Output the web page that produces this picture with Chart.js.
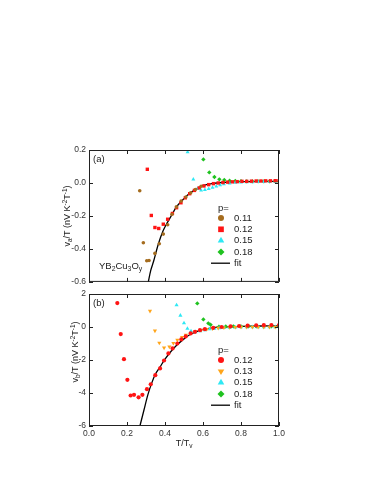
<!DOCTYPE html>
<html>
<head>
<meta charset="utf-8">
<script src="https://cdn.jsdelivr.net/npm/chart.js"></script>
<style>
  body { margin: 0; background: #fff; }
  .box { position: absolute; left: 0; width: 374px; }
</style>
</head>
<body>
<div class="box" style="top:140px;height:150px"><canvas id="chartA"></canvas></div>
<div class="box" style="top:284px;height:170px"><canvas id="chartB"></canvas></div>
<script>
// ---- panel (a) data ----
const xA11 = [0.267, 0.286, 0.304, 0.316, 0.347, 0.370, 0.391, 0.414, 0.437, 0.460, 0.485, 0.510, 0.535, 0.560, 0.590];
const yA11 = [-0.047, -0.363, -0.472, -0.470, -0.427, -0.369, -0.310, -0.253, -0.190, -0.145, -0.110, -0.085, -0.060, -0.040, -0.020];
const xA12 = [0.307, 0.328, 0.347, 0.367, 0.391, 0.414, 0.439, 0.461, 0.484, 0.507, 0.530, 0.555, 0.580, 0.605, 0.630, 0.655, 0.680, 0.705, 0.730, 0.755, 0.780, 0.805, 0.830, 0.855, 0.880, 0.905, 0.930, 0.955, 0.980, 1.000];
const yA12 = [0.083, -0.197, -0.270, -0.276, -0.250, -0.220, -0.185, -0.150, -0.120, -0.090, -0.065, -0.045, -0.030, -0.018, -0.010, -0.004, 0.000, 0.003, 0.005, 0.007, 0.008, 0.010, 0.010, 0.011, 0.012, 0.012, 0.013, 0.013, 0.014, 0.014];
const xA15 = [0.519, 0.549, 0.570, 0.590, 0.610, 0.630, 0.650, 0.670, 0.690, 0.710, 0.740, 0.770, 0.800, 0.830, 0.860, 0.890, 0.920, 0.950, 0.980];
const yA15 = [0.188, 0.022, -0.035, -0.045, -0.042, -0.035, -0.028, -0.020, -0.013, -0.007, -0.002, 0.002, 0.004, 0.005, 0.006, 0.007, 0.007, 0.008, 0.008];
const xA18 = [0.602, 0.633, 0.660, 0.686, 0.712, 0.740, 0.770, 0.800, 0.830, 0.860, 0.890, 0.920, 0.950, 0.980, 1.000];
const yA18 = [0.143, 0.064, 0.036, 0.022, 0.018, 0.014, 0.012, 0.011, 0.010, 0.010, 0.010, 0.010, 0.010, 0.010, 0.008];
const xAfit = [0.312, 0.325, 0.340, 0.365, 0.390, 0.410, 0.440, 0.460, 0.500, 0.530, 0.560, 0.600, 0.650, 0.700, 0.800, 0.900, 1.000];
const yAfit = [-0.600, -0.530, -0.475, -0.370, -0.290, -0.245, -0.185, -0.145, -0.095, -0.063, -0.040, -0.015, -0.003, 0.003, 0.008, 0.010, 0.010];

// ---- panel (b) data ----
const xB12 = [0.149, 0.167, 0.184, 0.202, 0.219, 0.237, 0.261, 0.281, 0.305, 0.325, 0.349, 0.374, 0.395, 0.418, 0.440, 0.465, 0.486, 0.509, 0.535, 0.558, 0.584, 0.610, 0.654, 0.698, 0.745, 0.790, 0.835, 0.880, 0.920, 0.960, 1.000];
const yB12 = [1.45, -0.43, -1.95, -3.20, -4.15, -4.11, -4.26, -4.11, -3.77, -3.47, -2.92, -2.51, -2.03, -1.60, -1.30, -1.00, -0.75, -0.57, -0.39, -0.29, -0.19, -0.13, -0.05, 0.00, 0.04, 0.06, 0.08, 0.10, 0.11, 0.12, 0.12];
const xB13 = [0.321, 0.347, 0.370, 0.395, 0.423, 0.444, 0.465, 0.490, 0.510, 0.535, 0.560, 0.590, 0.620, 0.650, 0.680, 0.710, 0.740, 0.770, 0.800, 0.830, 0.860, 0.890, 0.920, 0.950, 0.980];
const yB13 = [0.97, -0.23, -0.96, -1.26, -1.20, -0.98, -0.79, -0.62, -0.48, -0.37, -0.27, -0.19, -0.13, -0.09, -0.06, -0.04, -0.02, -0.01, 0.00, 0.00, 0.00, 0.00, 0.00, 0.00, 0.00];
const xB15 = [0.461, 0.481, 0.500, 0.518, 0.537, 0.560, 0.585, 0.610, 0.635, 0.660, 0.685, 0.710, 0.740, 0.770, 0.800, 0.830, 0.860, 0.890, 0.920, 0.950, 0.980];
const yB15 = [1.33, 0.70, 0.24, -0.10, -0.25, -0.30, -0.25, -0.18, -0.13, -0.09, -0.06, -0.04, -0.03, -0.02, -0.01, -0.01, 0.00, 0.00, 0.00, 0.00, 0.00];
const xB18 = [0.570, 0.602, 0.628, 0.640, 0.684, 0.720, 0.760, 0.800, 0.840, 0.880, 0.920, 0.960, 1.000];
const yB18 = [1.43, 0.46, 0.22, 0.14, 0.02, 0.03, 0.04, 0.04, 0.05, 0.05, 0.05, 0.05, 0.05];
const xBfit = [0.268, 0.290, 0.310, 0.330, 0.350, 0.375, 0.400, 0.430, 0.460, 0.500, 0.530, 0.570, 0.600, 0.650, 0.700, 0.800, 0.900, 1.000];
const yBfit = [-6.00, -5.00, -4.10, -3.40, -2.85, -2.40, -1.95, -1.50, -1.12, -0.72, -0.47, -0.26, -0.15, -0.05, 0.00, 0.04, 0.06, 0.07];

const xTicks = [0, 0.2, 0.4, 0.6, 0.8, 1.0];
const yTicksA = [-0.6, -0.4, -0.2, 0.0, 0.2];
const yTicksB = [-6, -4, -2, 0, 2];

const BROWN = '#A56C1E', RED = '#FF1414', CYAN = '#2EE8F4', GREEN = '#1FC21F', ORANGE = '#FFA51A';
const FONT = 'Liberation Sans, Arial, sans-serif';

const pts = (xs, ys) => xs.map((x, i) => ({ x: x, y: ys[i] }));

function drawMarker(ctx, style, x, y, r, color, rot) {
  ctx.save();
  ctx.fillStyle = color;
  ctx.translate(x, y);
  if (rot) ctx.rotate(rot * Math.PI / 180);
  ctx.beginPath();
  if (style === 'circle') {
    ctx.arc(0, 0, r, 0, Math.PI * 2);
  } else if (style === 'rect') {
    const s = r * Math.SQRT1_2;
    ctx.rect(-s, -s, 2 * s, 2 * s);
  } else if (style === 'triangle') {
    ctx.moveTo(0, -r);
    ctx.lineTo(r * 0.866, r * 0.5);
    ctx.lineTo(-r * 0.866, r * 0.5);
    ctx.closePath();
  } else if (style === 'rectRot') {
    ctx.moveTo(0, -r); ctx.lineTo(r, 0); ctx.lineTo(0, r); ctx.lineTo(-r, 0);
    ctx.closePath();
  }
  ctx.fill();
  ctx.restore();
}

// text with sub/superscripts: parts = [[text, 'n'|'sub'|'sup'], ...]
function richText(ctx, parts, x, y, size, align) {
  const fontFor = m => (m === 'n' ? size : size * 0.72) + 'px ' + FONT;
  let w = 0;
  parts.forEach(p => { ctx.font = fontFor(p[1]); w += ctx.measureText(p[0]).width; });
  let cx = align === 'center' ? x - w / 2 : x;
  ctx.textAlign = 'left';
  ctx.textBaseline = 'middle';
  parts.forEach(p => {
    ctx.font = fontFor(p[1]);
    const dy = p[1] === 'sub' ? size * 0.3 : p[1] === 'sup' ? -size * 0.35 : 0;
    ctx.fillText(p[0], cx, y + dy);
    cx += ctx.measureText(p[0]).width;
  });
}

const decor = {
  id: 'decor',
  afterDraw(chart, args, opts) {
    const ctx = chart.ctx;
    const a = chart.chartArea;
    const xs = chart.scales.x, ys = chart.scales.y;
    ctx.save();
    ctx.strokeStyle = '#222';
    ctx.lineWidth = 1;
    ctx.strokeRect(a.left + 0.5, a.top + 0.5, a.right - a.left - 1, a.bottom - a.top - 1);
    ctx.beginPath();
    const tl = 4;
    opts.xTicks.forEach(v => {
      const px = Math.round(xs.getPixelForValue(v)) + 0.5;
      ctx.moveTo(px, a.bottom); ctx.lineTo(px, a.bottom - tl);
      ctx.moveTo(px, a.top); ctx.lineTo(px, a.top + tl);
    });
    opts.yTicks.forEach(v => {
      const py = Math.round(ys.getPixelForValue(v)) + 0.5;
      ctx.moveTo(a.left, py); ctx.lineTo(a.left + tl, py);
      ctx.moveTo(a.right, py); ctx.lineTo(a.right - tl, py);
    });
    ctx.stroke();

    ctx.fillStyle = '#222';
    // panel tag
    ctx.font = '9.5px ' + FONT;
    ctx.textAlign = 'left';
    ctx.textBaseline = 'middle';
    ctx.fillText(opts.tag, a.left + 4, a.top + 9);

    // y title
    ctx.save();
    ctx.translate(opts.yTitleX, opts.yTitleY);
    ctx.rotate(-Math.PI / 2);
    richText(ctx, opts.yTitle, 0, 0, 9, 'center');
    ctx.restore();

    if (opts.extra) opts.extra.forEach(t => richText(ctx, t.parts, t.x, t.y, t.size, t.align));

    // legend
    const lg = opts.legend;
    ctx.fillStyle = '#222';
    ctx.font = '9.5px ' + FONT;
    ctx.textAlign = 'left';
    ctx.textBaseline = 'middle';
    ctx.fillText('p=', lg.x - 3, lg.y0 - 10);
    chart.data.datasets.forEach((ds, i) => {
      const y = lg.y0 + i * lg.dy;
      if (ds.showLine) {
        ctx.strokeStyle = '#000';
        ctx.lineWidth = 1.3;
        ctx.beginPath();
        ctx.moveTo(lg.x - 10, y); ctx.lineTo(lg.x + 9, y);
        ctx.stroke();
      } else {
        drawMarker(ctx, ds.pointStyle, lg.x, y, lg.r[ds.pointStyle] || 3, ds.backgroundColor, ds.pointRotation || 0);
      }
      ctx.fillStyle = '#222';
      ctx.font = '9.5px ' + FONT;
      ctx.textAlign = 'left';
      ctx.textBaseline = 'middle';
      ctx.fillText(ds.label, lg.x + 13, y);
    });
    ctx.restore();
  }
};

function markers(label, xs, ys, color, style, r, rot) {
  return {
    label: label, data: pts(xs, ys), showLine: false,
    pointStyle: style, pointRadius: r, pointHoverRadius: r, pointRotation: rot || 0,
    backgroundColor: color, borderColor: color, borderWidth: 0
  };
}
function fitLine(xs, ys) {
  return {
    label: 'fit', data: pts(xs, ys), showLine: true, pointRadius: 0,
    borderColor: '#000', borderWidth: 1.3, backgroundColor: '#000', tension: 0.3
  };
}

function makeOptions(cfg) {
  return {
    responsive: true,
    maintainAspectRatio: false,
    animation: false,
    layout: { padding: { top: 10, right: 95, left: 0, bottom: 0 } },
    plugins: { legend: { display: false }, tooltip: { enabled: false }, decor: cfg.decor },
    scales: {
      x: {
        type: 'linear', min: 0, max: 1,
        grid: { display: false, drawTicks: false, tickLength: 0 }, border: { display: false },
        ticks: {
          display: cfg.xLabels, stepSize: 0.2, padding: 3, color: '#333',
          font: { family: FONT, size: 8.5 },
          callback: v => v.toFixed(1)
        },
        afterFit: s => { s.height = cfg.xHeight; }
      },
      y: {
        type: 'linear', min: cfg.yMin, max: cfg.yMax,
        grid: { display: false, drawTicks: false, tickLength: 0 }, border: { display: false },
        ticks: {
          stepSize: cfg.yStep, padding: 3, color: '#333',
          font: { family: FONT, size: 8.5 },
          callback: cfg.yFmt
        },
        afterFit: s => { s.width = 89; }
      }
    }
  };
}

const legendR = { circle: 3, rect: 4, triangle: 3.8, rectRot: 3.5 };

new Chart(document.getElementById('chartA'), {
  type: 'scatter',
  data: {
    datasets: [
      markers('0.11', xA11, yA11, BROWN, 'circle', 1.8),
      markers('0.12', xA12, yA12, RED, 'rect', 2.4),
      markers('0.15', xA15, yA15, CYAN, 'triangle', 2.3),
      markers('0.18', xA18, yA18, GREEN, 'rectRot', 2.2),
      fitLine(xAfit, yAfit)
    ]
  },
  options: makeOptions({
    xLabels: false, xHeight: 8, yMin: -0.6, yMax: 0.2, yStep: 0.2,
    yFmt: v => v.toFixed(1),
    decor: {
      tag: '(a)', xTicks: xTicks, yTicks: yTicksA,
      yTitleX: 68, yTitleY: 76,
      yTitle: [['v', 'n'], ['a', 'sub'], ['/T (nV K', 'n'], ['-2', 'sup'], ['T', 'n'], ['-1', 'sup'], [')', 'n']],
      extra: [{ parts: [['YB', 'n'], ['2', 'sub'], ['Cu', 'n'], ['3', 'sub'], ['O', 'n'], ['y', 'sub']], x: 99, y: 126, size: 9.5, align: 'left' }],
      legend: { x: 221, y0: 78, dy: 11.3, r: legendR }
    }
  }),
  plugins: [decor]
});

new Chart(document.getElementById('chartB'), {
  type: 'scatter',
  data: {
    datasets: [
      markers('0.12', xB12, yB12, RED, 'circle', 2.1),
      markers('0.13', xB13, yB13, ORANGE, 'triangle', 2.4, 180),
      markers('0.15', xB15, yB15, CYAN, 'triangle', 2.4),
      markers('0.18', xB18, yB18, GREEN, 'rectRot', 2.2),
      fitLine(xBfit, yBfit)
    ]
  },
  options: makeOptions({
    xLabels: true, xHeight: 28, yMin: -6, yMax: 2, yStep: 2,
    yFmt: v => String(v),
    decor: {
      tag: '(b)', xTicks: xTicks, yTicks: yTicksB,
      yTitleX: 76, yTitleY: 68,
      yTitle: [['v', 'n'], ['b', 'sub'], ['/T (nV K', 'n'], ['-2', 'sup'], ['T', 'n'], ['-1', 'sup'], [')', 'n']],
      extra: [{ parts: [['T/T', 'n'], ['v', 'sub']], x: 184, y: 160, size: 9, align: 'center' }],
      legend: { x: 221, y0: 76, dy: 11.3, r: legendR }
    }
  }),
  plugins: [decor]
});
</script>
</body>
</html>
